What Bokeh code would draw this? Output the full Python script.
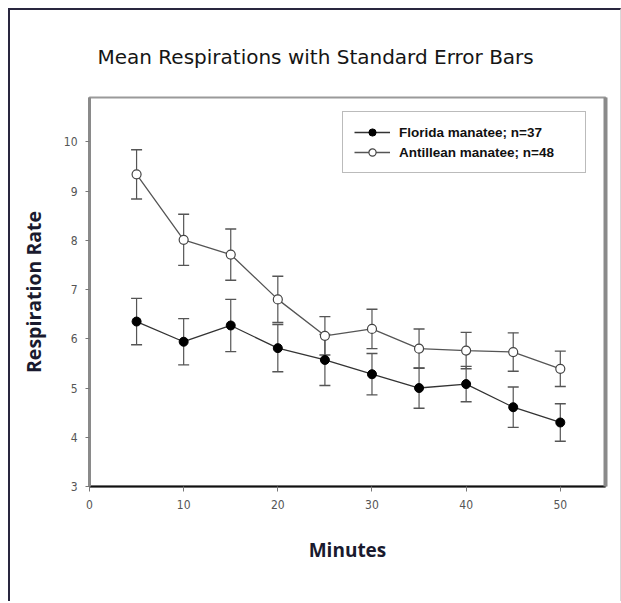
from bokeh.plotting import figure
from bokeh.models import (ColumnDataSource, Whisker, TeeHead, Legend, LegendItem,
                          LinearAxis, FixedTicker)
from bokeh.embed import file_html
from bokeh.resources import INLINE

# ---- data ----
minutes = [5, 10, 15, 20, 25, 30, 35, 40, 45, 50]
florida_mean = [6.35, 5.94, 6.27, 5.81, 5.57, 5.28, 5.00, 5.08, 4.61, 4.30]
florida_se = [0.47, 0.47, 0.53, 0.48, 0.52, 0.42, 0.41, 0.36, 0.41, 0.38]
antillean_mean = [9.34, 8.01, 7.71, 6.80, 6.06, 6.20, 5.80, 5.76, 5.73, 5.39]
antillean_se = [0.50, 0.52, 0.52, 0.47, 0.39, 0.40, 0.40, 0.37, 0.39, 0.36]
x_ticks = [0, 10, 20, 30, 40, 50]
y_ticks = [3, 4, 5, 6, 7, 8, 9, 10]
series_names = ["Florida manatee; n=37", "Antillean manatee; n=48"]
title_text = "Mean Respirations with Standard Error Bars"
x_title = "Minutes"
y_title = "Respiration Rate"

src_f = ColumnDataSource(dict(
    x=minutes, y=florida_mean,
    lo=[m - s for m, s in zip(florida_mean, florida_se)],
    hi=[m + s for m, s in zip(florida_mean, florida_se)]))
src_a = ColumnDataSource(dict(
    x=minutes, y=antillean_mean,
    lo=[m - s for m, s in zip(antillean_mean, antillean_se)],
    hi=[m + s for m, s in zip(antillean_mean, antillean_se)]))

FRAME_W, FRAME_H = 513, 387
LEFT, TOP = 79, 87
W, H = 613, 593

p = figure(width=W, height=H, output_backend="svg", toolbar_location=None,
           x_range=(0, 54.8), y_range=(3, 10.9),
           min_border_left=LEFT, min_border_top=TOP,
           min_border_right=W - 3 - LEFT - FRAME_W,
           min_border_bottom=H - 2 - TOP - FRAME_H)
p.styles = {"border-left": "2px solid #29263f", "border-top": "2px solid #29263f",
            "border-right": "1px solid #d8d8d8",
            "margin-left": "8px", "margin-top": "8px"}
p.xgrid.visible = False
p.ygrid.visible = False
p.background_fill_color = "white"
p.border_fill_color = "white"
p.outline_line_color = "#9a9a9a"
p.outline_line_width = 2

# title
p.title.text = title_text
p.title.align = "left"
p.title.offset = 8
p.title.standoff = 57
p.title.text_font = "DejaVu Sans"
p.title.text_font_style = "normal"
p.title.text_font_size = "20px"
p.title.text_color = "#151515"

tick_font = "Liberation Sans Narrow, DejaVu Sans Condensed, sans-serif"
label_font = "Open Sans"

# x axis
xa = p.xaxis[0]
xa.ticker = FixedTicker(ticks=x_ticks)
xa.axis_line_color = "#111111"
xa.axis_line_width = 2
xa.major_tick_line_color = "#777777"
xa.major_tick_in = 0
xa.major_tick_out = 5
xa.minor_tick_line_color = None
xa.major_label_text_font = tick_font
xa.major_label_text_font_size = "12px"
xa.major_label_text_color = "#555555"
xa.major_label_standoff = 8
xa.axis_label = x_title
xa.axis_label_text_font = label_font
xa.axis_label_text_font_style = "bold"
xa.axis_label_text_font_size = "19px"
xa.axis_label_text_color = "#1a1a2e"
xa.axis_label_standoff = 25

# y axis
ya = p.yaxis[0]
ya.ticker = FixedTicker(ticks=y_ticks)
ya.axis_line_color = "#8a8a8a"
ya.axis_line_width = 3
ya.major_tick_line_color = "#777777"
ya.major_tick_in = 0
ya.major_tick_out = 4
ya.minor_tick_line_color = None
ya.major_label_text_font = tick_font
ya.major_label_text_font_size = "12px"
ya.major_label_text_color = "#555555"
ya.major_label_standoff = 8
ya.axis_label = y_title
ya.axis_label_text_font = label_font
ya.axis_label_text_font_style = "bold"
ya.axis_label_text_font_size = "19.5px"
ya.axis_label_text_color = "#1a1a2e"
ya.axis_label_standoff = 14

# right frame edge (thick grey), no ticks or labels
ra = LinearAxis(ticker=FixedTicker(ticks=[]), axis_line_color="#8a8a8a", axis_line_width=4,
                major_tick_line_color=None, minor_tick_line_color=None)
p.add_layout(ra, "right")

# error bars
for src in (src_a, src_f):
    w = Whisker(source=src, base="x", lower="lo", upper="hi",
                line_color="#555555", line_width=1.2,
                upper_head=TeeHead(size=11, line_color="#555555", line_width=1.4),
                lower_head=TeeHead(size=11, line_color="#555555", line_width=1.4))
    p.add_layout(w)

# lines and markers
la = p.line("x", "y", source=src_a, line_color="#555555", line_width=1.3)
lf = p.line("x", "y", source=src_f, line_color="#333333", line_width=1.3)
sa = p.scatter("x", "y", source=src_a, size=9, marker="circle",
               fill_color="white", line_color="#444444", line_width=1.2)
sf = p.scatter("x", "y", source=src_f, size=9, marker="circle",
               fill_color="#000000", line_color="#000000")

legend = Legend(items=[LegendItem(label=series_names[0], renderers=[lf, sf]),
                       LegendItem(label=series_names[1], renderers=[la, sa])],
                location=(253, 313), padding=11, spacing=2,
                glyph_width=36, glyph_height=18, label_height=18, label_width=175,
                label_standoff=9, margin=0,
                label_text_font="Liberation Sans",
                label_text_font_style="bold", label_text_font_size="13.5px",
                label_text_color="#111111",
                border_line_color="#777777", border_line_width=1,
                background_fill_color="white", background_fill_alpha=1)
p.add_layout(legend, "center")

open("out.html", "w").write(file_html(p, INLINE))
